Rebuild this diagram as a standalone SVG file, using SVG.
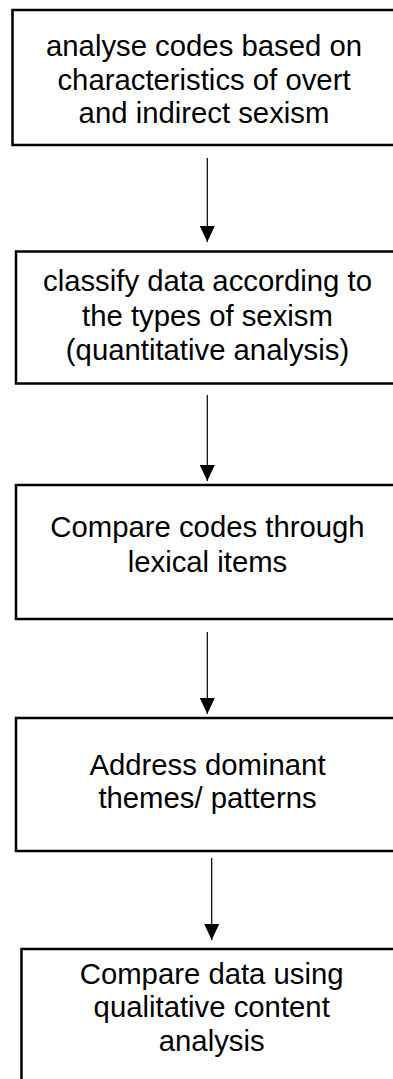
<svg xmlns="http://www.w3.org/2000/svg" width="393" height="1079" viewBox="0 0 393 1079">
<style>
.box{fill:#ffffff;stroke:#000000;stroke-width:2.5}
.t{font-family:"Liberation Sans",Arial,sans-serif;font-size:29.3px;fill:#000000;text-anchor:middle}
.c{stroke:#000000;stroke-width:1.2;fill:none}
</style>
<defs>
<marker id="ah" markerUnits="userSpaceOnUse" viewBox="0 0 16 15" refX="16" refY="7.5" markerWidth="16" markerHeight="15" orient="auto">
<path d="M0,0 L16,7.5 L0,15 z" fill="#000000"/>
</marker>
</defs>
<rect width="393" height="1079" fill="#ffffff"/>
<g id="connectors">
<line class="c" x1="207.3" y1="158" x2="207.3" y2="242" marker-end="url(#ah)"/>
<line class="c" x1="207.3" y1="395" x2="207.3" y2="481" marker-end="url(#ah)"/>
<line class="c" x1="207.3" y1="632" x2="207.3" y2="714" marker-end="url(#ah)"/>
<line class="c" x1="211.7" y1="858" x2="211.7" y2="940" marker-end="url(#ah)"/>
</g>
<g id="node1">
<rect class="box" x="12.5" y="10" width="390" height="135"/>
<text class="t" x="204" y="56">analyse codes based on</text>
<text class="t" x="204" y="89.5">characteristics of overt</text>
<text class="t" x="204" y="123">and indirect sexism</text>
</g>
<g id="node2">
<rect class="box" x="16" y="251.5" width="390" height="132"/>
<text class="t" x="207.5" y="291">classify data according to</text>
<text class="t" x="207.5" y="325.5">the types of sexism</text>
<text class="t" x="207.5" y="360">(quantitative analysis)</text>
</g>
<g id="node3">
<rect class="box" x="16" y="485" width="390" height="134"/>
<text class="t" x="207.5" y="537">Compare codes through</text>
<text class="t" x="207.5" y="571.5">lexical items</text>
</g>
<g id="node4">
<rect class="box" x="16" y="718" width="390" height="133"/>
<text class="t" x="207.5" y="774.5">Address dominant</text>
<text class="t" x="207.5" y="807.5">themes/ patterns</text>
</g>
<g id="node5">
<rect class="box" x="21.5" y="949" width="390" height="200"/>
<text class="t" x="211.7" y="983.5">Compare data using</text>
<text class="t" x="211.7" y="1017">qualitative content</text>
<text class="t" x="211.7" y="1050.5">analysis</text>
</g>
</svg>
